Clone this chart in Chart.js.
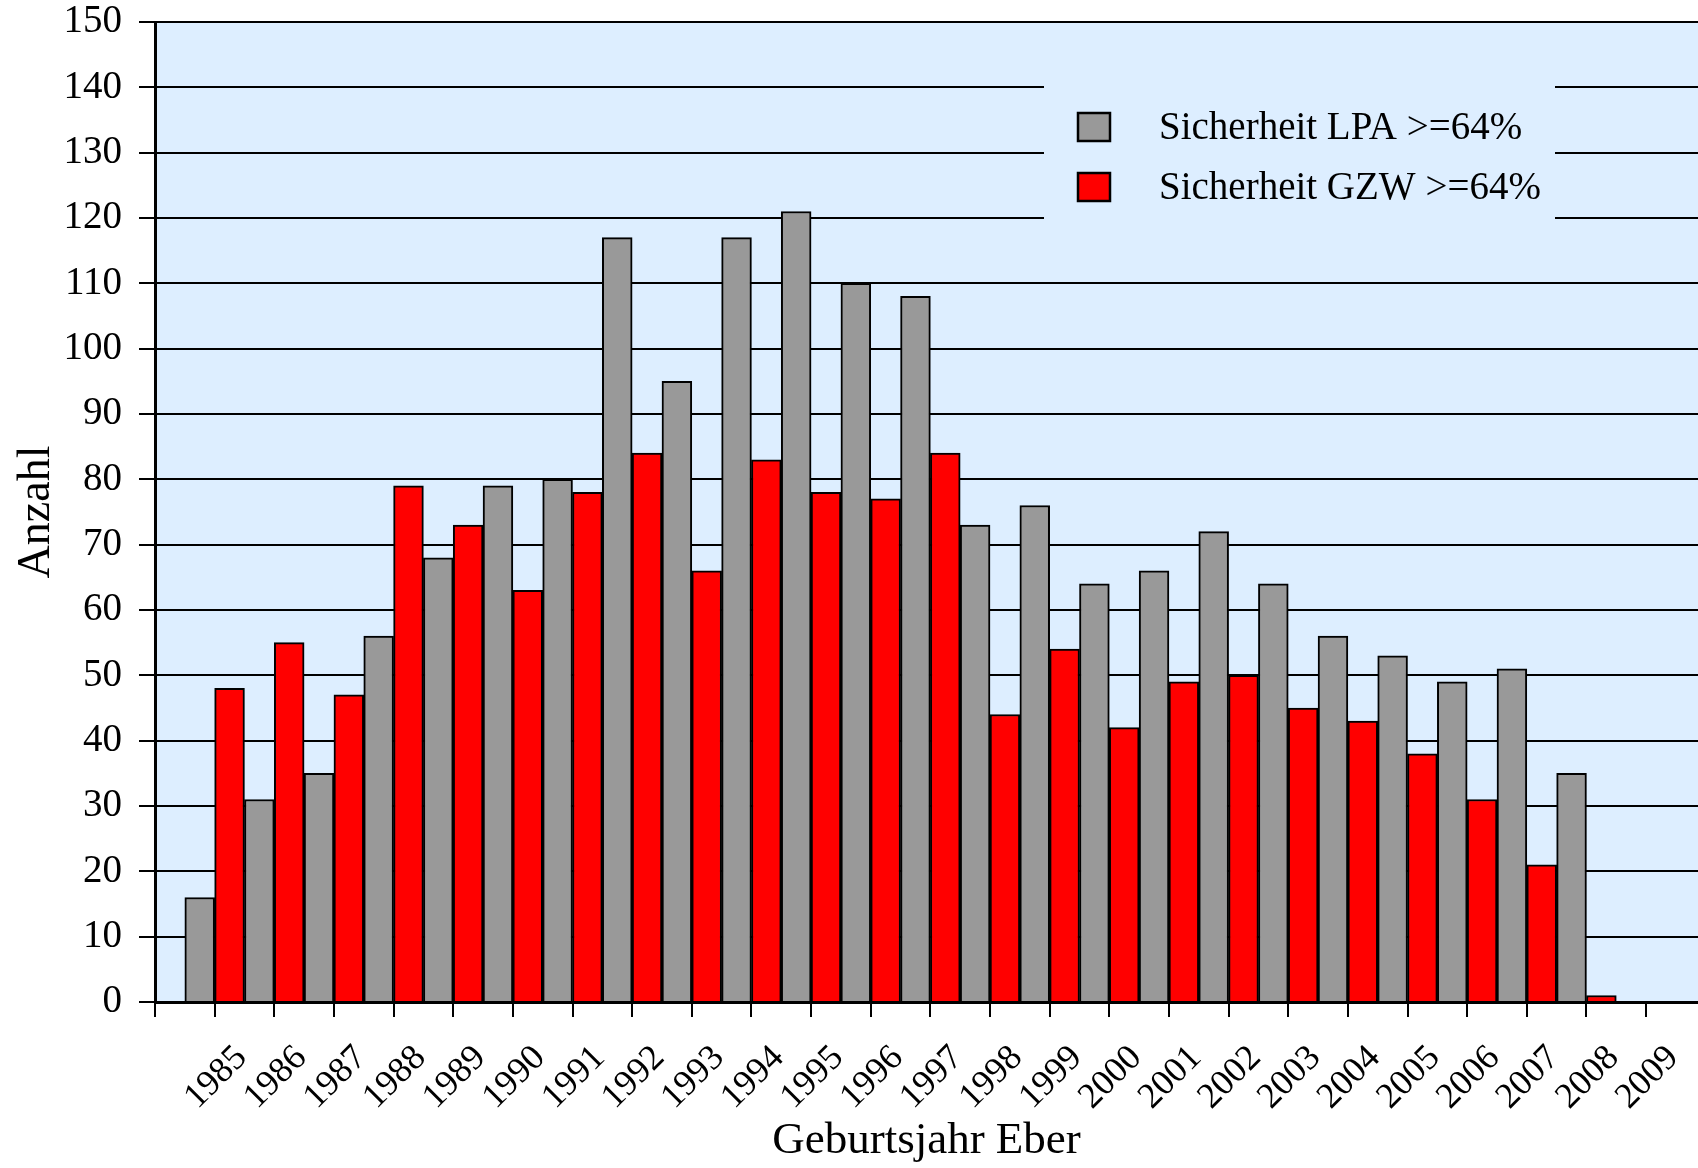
<!DOCTYPE html>
<html lang="de">
<head>
  <meta charset="UTF-8" />
  <title>Sicherheit LPA / GZW nach Geburtsjahr Eber</title>
  <script src="https://cdn.jsdelivr.net/npm/chart.js"></script>
  <style>
    html, body { margin: 0; padding: 0; background: #fff; overflow: hidden; }
    #wrap { width: 1698px; height: 1168px; }
  </style>
</head>
<body>
  <div id="wrap"><canvas id="eberChart" width="1698" height="1168"></canvas></div>

  <script>
    // Geburtsjahr Eber
    const years = [1985, 1986, 1987, 1988, 1989, 1990, 1991, 1992, 1993, 1994, 1995, 1996,
                   1997, 1998, 1999, 2000, 2001, 2002, 2003, 2004, 2005, 2006, 2007, 2008];
    // Anzahl mit Sicherheit LPA >= 64%
    const lpaValues = [16, 31, 35, 56, 68, 79, 80, 117, 95, 117, 121, 110,
                       108, 73, 76, 64, 66, 72, 64, 56, 53, 49, 51, 35];
    // Anzahl mit Sicherheit GZW >= 64%
    const gzwValues = [48, 55, 47, 79, 73, 63, 78, 84, 66, 83, 78, 77,
                       84, 44, 54, 42, 49, 50, 45, 43, 38, 31, 21, 1];
    const seriesNames = ["Sicherheit LPA >=64%", "Sicherheit GZW >=64%"];
    const seriesColors = ["#999999", "#ff0000"];
    const yMin = 0, yMax = 150, yStep = 10;
    const xMin = 1984, xMax = 2009.87;

    const serif = "'Liberation Serif', 'DejaVu Serif', serif";
    const plotBg = "#ddeeff";

    // light blue plot background
    const plotBackground = {
      id: "plotBackground",
      beforeDraw(chart) {
        const { ctx, chartArea: a } = chart;
        ctx.save();
        ctx.fillStyle = plotBg;
        ctx.fillRect(a.left, a.top, a.right - a.left, a.bottom - a.top);
        ctx.restore();
      }
    };

    // legend box sitting on top of the grid lines, upper right
    const boxLegend = {
      id: "boxLegend",
      beforeDatasetsDraw(chart) {
        const ctx = chart.ctx;
        ctx.save();
        ctx.fillStyle = plotBg;
        ctx.fillRect(1044, 78, 511, 150);
        chart.data.datasets.forEach((ds, i) => {
          const y = 112 + i * 60;
          ctx.fillStyle = ds.backgroundColor;
          ctx.fillRect(1077, y, 34, 30);
          ctx.lineWidth = 2.5;
          ctx.strokeStyle = "#000";
          ctx.strokeRect(1078, y + 1, 32, 28);
          ctx.fillStyle = "#000";
          ctx.font = "39px " + serif;
          ctx.textBaseline = "middle";
          ctx.textAlign = "left";
          ctx.fillText(ds.label, 1159, y + 17);
        });
        ctx.restore();
      }
    };

    const ctx = document.getElementById("eberChart").getContext("2d");
    new Chart(ctx, {
      type: "bar",
      data: {
        labels: years,
        datasets: [
          {
            label: seriesNames[0],
            data: lpaValues,
            backgroundColor: seriesColors[0],
            borderColor: "#000",
            borderWidth: 2,
            borderSkipped: "start"
          },
          {
            label: seriesNames[1],
            data: gzwValues,
            backgroundColor: seriesColors[1],
            borderColor: "#000",
            borderWidth: 2,
            borderSkipped: "start"
          }
        ]
      },
      options: {
        responsive: false,
        animation: false,
        categoryPercentage: 1,
        barPercentage: 1,
        layout: { padding: { top: 22, right: 0, left: 0, bottom: 0 } },
        plugins: {
          legend: { display: false },
          tooltip: { enabled: false }
        },
        scales: {
          x: {
            type: "linear",
            min: xMin,
            max: xMax,
            offset: false,
            grid: { offset: false, drawOnChartArea: false, color: "#000", lineWidth: 2, tickLength: 15 },
            border: { color: "#000", width: 3 },
            ticks: {
              stepSize: 1,
              includeBounds: false,
              autoSkip: false,
              minRotation: 45,
              maxRotation: 45,
              labelOffset: 27,
              padding: 20,
              color: "#000",
              font: { family: serif, size: 36 },
              callback: (v) => (v < years[0] ? "" : String(v))
            },
            title: {
              display: true,
              text: "Geburtsjahr Eber",
              color: "#000",
              font: { family: serif, size: 45 },
              padding: 0
            },
            afterFit: (scale) => { scale.height = 166; scale.paddingLeft = 0; scale.paddingRight = 0; }
          },
          y: {
            min: yMin,
            max: yMax,
            grid: { color: "#000", lineWidth: 2, tickLength: 16 },
            border: { color: "#000", width: 3 },
            ticks: {
              stepSize: yStep,
              padding: 17,
              color: "#000",
              font: { family: serif, size: 39, lineHeight: 1 }
            },
            title: {
              display: true,
              text: "Anzahl",
              color: "#000",
              font: { family: serif, size: 46 },
              padding: { top: 9, bottom: 0 }
            },
            afterFit: (scale) => { scale.width = 155; scale.paddingTop = 0; scale.paddingBottom = 0; }
          }
        }
      },
      plugins: [plotBackground, boxLegend]
    });
  </script>
</body>
</html>
